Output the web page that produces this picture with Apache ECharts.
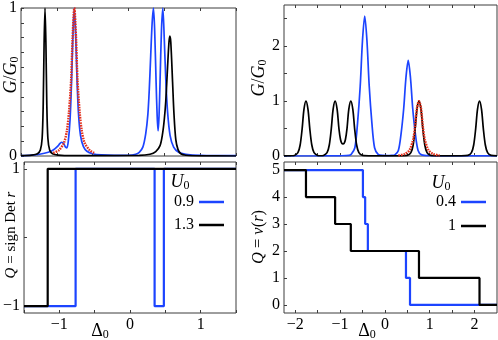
<!DOCTYPE html>
<html>
<head>
<meta charset="utf-8">
<script src="https://cdn.jsdelivr.net/npm/echarts@6/dist/echarts.min.js"></script>
<style>
  html, body { margin: 0; padding: 0; background: #fff; }
  #chart { width: 498px; height: 340px; }
</style>
</head>
<body>
<div id="chart"></div>
<script>
// ticks and labels
const leftXTicks = [-1.5, -1, -0.5, 0, 0.5, 1, 1.5]
const leftXLabels = [-1, 0, 1]
const rightXTicks = [-2, -1.5, -1, -0.5, 0, 0.5, 1, 1.5, 2]
const rightXLabels = [-2, -1, 0, 1, 2]
const tlYTicks = [0, 0.1, 0.2, 0.3, 0.4, 0.5, 0.6, 0.7, 0.8, 0.9, 1]
const tlYLabels = [0, 1]
const blYTicks = [-1, 0, 1]
const blYLabels = [-1, 1]
const trYTicks = [0, 0.5, 1, 1.5, 2, 2.5]
const trYLabels = [0, 1, 2]
const brYTicks = [0, 1, 2, 3, 4, 5]
const brYLabels = [0, 1, 2, 3, 4, 5]

// legend values
const leftU0 = ['0.9', '1.3']
const rightU0 = ['0.4', '1']

// top left: G/G0 vs Delta0
const tlBlue = [[-1.5, 0.002], [-1.35, 0.006], [-1.24, 0.012], [-1.12, 0.025], [-1.05, 0.04], [-0.99, 0.065],
  [-0.955, 0.085], [-0.93, 0.093], [-0.905, 0.085], [-0.88, 0.06], [-0.86, 0.055], [-0.84, 0.1], [-0.815, 0.25],
  [-0.795, 0.5], [-0.775, 0.82], [-0.756, 1.0], [-0.737, 0.82], [-0.717, 0.5], [-0.697, 0.28], [-0.67, 0.14],
  [-0.63, 0.065], [-0.58, 0.032], [-0.5, 0.015], [-0.38, 0.007], [-0.2, 0.004], [0.0, 0.005], [0.1, 0.012],
  [0.15, 0.025], [0.2, 0.06], [0.24, 0.15], [0.27, 0.28], [0.29, 0.45], [0.31, 0.68], [0.33, 0.9], [0.348, 1.0],
  [0.365, 0.85], [0.385, 0.5], [0.4, 0.27], [0.413, 0.17], [0.426, 0.27], [0.44, 0.5], [0.46, 0.85], [0.479, 1.0],
  [0.5, 0.78], [0.52, 0.52], [0.545, 0.3], [0.58, 0.14], [0.63, 0.06], [0.7, 0.025], [0.8, 0.012], [1.0, 0.005],
  [1.5, 0.002]]
const tlBlack = [[-1.5, 0.002], [-1.35, 0.006], [-1.27, 0.015], [-1.23, 0.04], [-1.205, 0.12], [-1.19, 0.35],
  [-1.178, 0.75], [-1.165, 1.0], [-1.152, 0.75], [-1.14, 0.35], [-1.125, 0.12], [-1.1, 0.04], [-1.06, 0.015],
  [-0.98, 0.006], [-0.8, 0.002], [0.15, 0.004], [0.3, 0.012], [0.38, 0.03], [0.44, 0.07], [0.475, 0.15],
  [0.5, 0.25], [0.52, 0.37], [0.545, 0.6], [0.565, 0.77], [0.577, 0.81], [0.59, 0.77], [0.615, 0.5],
  [0.635, 0.28], [0.66, 0.11], [0.69, 0.045], [0.73, 0.015], [0.8, 0.005], [1.0, 0.001], [1.5, 0.0]]
const tlRed = [[-1.05, 0.02], [-0.97, 0.04], [-0.9, 0.09], [-0.86, 0.17], [-0.83, 0.3], [-0.8, 0.52],
  [-0.78, 0.8], [-0.756, 1.0], [-0.732, 0.8], [-0.712, 0.52], [-0.682, 0.3], [-0.652, 0.17], [-0.612, 0.09],
  [-0.542, 0.04], [-0.48, 0.02]]

// bottom left: Q = sign Det r (step breakpoints)
const blBlue = [[-1.5, -1], [-0.77, 1], [0.348, -1], [0.479, 1], [1.5, 1]]
const blBlack = [[-1.5, -1], [-1.165, 1], [1.5, 1]]

// top right
const trBlack = [[-2.25, 0.001], [-2.1, 0.004], [-2.02, 0.01], [-1.94, 0.06], [-1.89, 0.2], [-1.845, 0.5],
  [-1.805, 0.85], [-1.76, 1], [-1.715, 0.85], [-1.675, 0.5], [-1.63, 0.2], [-1.58, 0.06], [-1.5, 0.01],
  [-1.435, 0.005], [-1.37, 0.01], [-1.29, 0.06], [-1.24, 0.2], [-1.195, 0.5], [-1.155, 0.85], [-1.11, 1],
  [-1.065, 0.85], [-1.025, 0.5], [-0.99, 0.3], [-0.96, 0.23], [-0.935, 0.22], [-0.91, 0.23], [-0.88, 0.3],
  [-0.845, 0.5], [-0.805, 0.85], [-0.76, 1], [-0.715, 0.85], [-0.675, 0.5], [-0.63, 0.2], [-0.58, 0.06],
  [-0.5, 0.01], [-0.3, 0.002], [0.3, 0.002], [0.5, 0.01], [0.58, 0.06], [0.63, 0.2], [0.675, 0.5],
  [0.715, 0.85], [0.76, 1], [0.805, 0.85], [0.845, 0.5], [0.89, 0.2], [0.94, 0.06], [1.02, 0.01],
  [1.2, 0.002], [1.7, 0.002], [1.85, 0.01], [1.93, 0.06], [1.98, 0.2], [2.025, 0.5], [2.065, 0.85],
  [2.11, 1], [2.155, 0.85], [2.195, 0.5], [2.24, 0.2], [2.29, 0.06], [2.37, 0.01], [2.5, 0.003]]
const trBlue = [[-2.25, 0], [-1.5, 0.001], [-1.0, 0.004], [-0.8, 0.01], [-0.75, 0.03], [-0.67, 0.15],
  [-0.61, 0.6], [-0.55, 1.28], [-0.5, 2.1], [-0.45, 2.55], [-0.4, 2.1], [-0.35, 1.28], [-0.29, 0.6],
  [-0.23, 0.15], [-0.15, 0.03], [-0.05, 0.01], [0.05, 0.008], [0.15, 0.012], [0.22, 0.02], [0.3, 0.1],
  [0.36, 0.4], [0.42, 0.87], [0.47, 1.43], [0.52, 1.74], [0.57, 1.43], [0.62, 0.87], [0.68, 0.4],
  [0.74, 0.1], [0.82, 0.02], [1.0, 0.005], [1.5, 0.002], [2.5, 0.001]]
const trRed = [[0.3, 0.01], [0.45, 0.04], [0.55, 0.11], [0.63, 0.3], [0.675, 0.55], [0.715, 0.87], [0.76, 1],
  [0.805, 0.87], [0.845, 0.55], [0.89, 0.3], [0.97, 0.11], [1.07, 0.04], [1.22, 0.01]]

// bottom right: Q = nu(r)
const brBlue = [[-2.25, 5], [-0.49, 4], [-0.44, 3], [-0.38, 2], [0.47, 1], [0.56, 0], [2.5, 0]]
const brBlack = [[-2.25, 5], [-1.76, 4], [-1.11, 3], [-0.76, 2], [0.76, 1], [2.11, 0], [2.5, 0]]

const FONT = '"Liberation Serif", "DejaVu Serif", serif'
const INK = '#3c3c3c'
const BLUE = '#1c44ff'
const BLACK = '#000000'
const RED = '#e2301c'

const fmt = v => String(v).replace('-', '\u2212')

const axis = (gridIndex, min, max, ticks, labels, position) => ({
  type: 'value',
  gridIndex,
  min,
  max,
  position,
  axisLine: { show: false, onZero: false },
  axisTick: { show: true, inside: true, length: 3, lineStyle: { color: INK }, customValues: ticks },
  axisLabel: labels
    ? { show: true, customValues: labels, formatter: fmt, color: '#000', fontFamily: FONT, fontSize: 16, margin: 4 }
    : { show: false },
  splitLine: { show: false }
})

const curve = (name, data, axisIdx, color, width, dotted) => ({
  name,
  type: 'line',
  xAxisIndex: axisIdx,
  yAxisIndex: axisIdx,
  data,
  smooth: 0.3,
  showSymbol: false,
  symbol: 'none',
  z: dotted ? 5 : 3,
  itemStyle: { color },
  lineStyle: { color, width, type: dotted ? [1.6, 1] : 'solid' }
})

const steps = (name, data, axisIdx, color) => ({
  name,
  type: 'line',
  xAxisIndex: axisIdx,
  yAxisIndex: axisIdx,
  data,
  step: 'end',
  showSymbol: false,
  symbol: 'none',
  itemStyle: { color },
  lineStyle: { color, width: 2.2 }
})

const legendItem = (name, top, right) => ({
  data: [name],
  top,
  right,
  orient: 'vertical',
  align: 'right',
  icon: 'rect',
  itemWidth: 25,
  itemHeight: 2.5,
  padding: 0,
  selectedMode: false,
  textStyle: { fontFamily: FONT, fontSize: 16, color: '#000' }
})

const richAt = size => ({
  i: { fontFamily: FONT, fontSize: size, fontStyle: 'italic', fill: '#000' },
  r: { fontFamily: FONT, fontSize: size, fill: '#000' },
  s: { fontFamily: FONT, fontSize: Math.round(size * 0.68), fill: '#000', padding: [Math.round(size * 0.45), 0, 0, 0] }
})

const label = (text, x, y, size, rotation) => ({
  type: 'text',
  x,
  y,
  rotation: rotation || 0,
  style: { text, rich: richAt(size), fontFamily: FONT, fontSize: size, fill: '#000', align: 'center', verticalAlign: 'middle' }
})

const grids = [
  { left: 21, top: 5, width: 215, height: 151 },
  { left: 21, top: 162, width: 215, height: 151 },
  { left: 284, top: 5, width: 213, height: 151 },
  { left: 284, top: 162, width: 213, height: 151 }
].map(g => Object.assign({ show: true, borderColor: INK, borderWidth: 1 }, g))

const chart = echarts.init(document.getElementById('chart'))

chart.setOption({
  animation: false,
  backgroundColor: '#fff',
  grid: grids,
  xAxis: [
    axis(0, -1.5, 1.5, leftXTicks, null, 'bottom'),
    axis(1, -1.5, 1.5, leftXTicks, leftXLabels, 'bottom'),
    axis(2, -2.25, 2.5, rightXTicks, null, 'bottom'),
    axis(3, -2.25, 2.5, rightXTicks, rightXLabels, 'bottom'),
    axis(0, -1.5, 1.5, leftXTicks, null, 'top'),
    axis(1, -1.5, 1.5, leftXTicks, null, 'top'),
    axis(2, -2.25, 2.5, rightXTicks, null, 'top'),
    axis(3, -2.25, 2.5, rightXTicks, null, 'top')
  ],
  yAxis: [
    axis(0, 0, 1, tlYTicks, tlYLabels, 'left'),
    axis(1, -1.1, 1.1, blYTicks, blYLabels, 'left'),
    axis(2, 0, 2.75, trYTicks, trYLabels, 'left'),
    axis(3, -0.3, 5.3, brYTicks, brYLabels, 'left')
  ],
  legend: [
    legendItem(leftU0[0], 194, 274),
    legendItem(leftU0[1], 217, 274),
    legendItem(rightU0[0], 194, 12),
    legendItem(rightU0[1], 218, 12)
  ],
  graphic: [
    label('{i|G}{r|/}{i|G}{s|0}', 11, 75, 18, Math.PI / 2),
    label('{i|G}{r|/}{i|G}{s|0}', 259, 78, 18, Math.PI / 2),
    label('{i|Q}{r| = sign Det }{i|r}', 11, 235, 15, Math.PI / 2),
    label('{i|Q}{r| = }{i|\u03bd}{r|(}{i|r}{r|)}', 259, 237, 16.5, Math.PI / 2),
    label('{r|\u0394}{s|0}', 100, 331, 18),
    label('{r|\u0394}{s|0}', 367, 331, 18),
    label('{i|U}{s|0}', 180, 182, 18),
    label('{i|U}{s|0}', 441, 183, 18)
  ],
  series: [
    curve('tl-blue', tlBlue, 0, BLUE, 1.7),
    curve('tl-black', tlBlack, 0, BLACK, 1.7),
    curve('tl-red', tlRed, 0, RED, 2.4, true),
    steps(leftU0[0], blBlue, 1, BLUE),
    steps(leftU0[1], blBlack, 1, BLACK),
    curve('tr-blue', trBlue, 2, BLUE, 1.7),
    curve('tr-black', trBlack, 2, BLACK, 1.7),
    curve('tr-red', trRed, 2, RED, 2.4, true),
    steps(rightU0[0], brBlue, 3, BLUE),
    steps(rightU0[1], brBlack, 3, BLACK)
  ]
})
</script>
</body>
</html>
